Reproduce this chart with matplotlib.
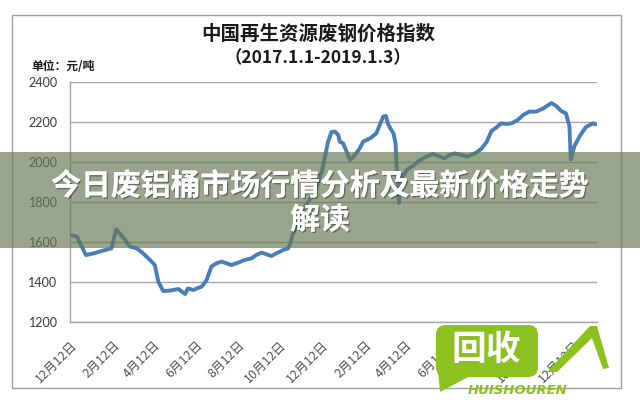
import matplotlib
matplotlib.use('Agg')
import matplotlib.pyplot as plt
from matplotlib.patches import Rectangle, FancyBboxPatch, Polygon
import matplotlib.patheffects as pe
import pandas as pd

plt.rcParams['font.family'] = ['Noto Sans CJK SC', 'DejaVu Sans']

# ---------------- data ----------------
dates = [
    '2016-12-06', '2016-12-15', '2016-12-28', '2017-01-08', '2017-01-22', '2017-02-03',
    '2017-02-10', '2017-02-15', '2017-02-23', '2017-03-02', '2017-03-12', '2017-03-21',
    '2017-03-31', '2017-04-07', '2017-04-12', '2017-04-19', '2017-04-29', '2017-05-11',
    '2017-05-21', '2017-05-25', '2017-06-02', '2017-06-07', '2017-06-14', '2017-06-21',
    '2017-06-28', '2017-07-05', '2017-07-13', '2017-07-20', '2017-07-27', '2017-08-06',
    '2017-08-15', '2017-08-25', '2017-09-01', '2017-09-09', '2017-09-16', '2017-09-23',
    '2017-09-30', '2017-10-10', '2017-10-17', '2017-10-20', '2017-10-25', '2017-11-03',
    '2017-11-13', '2017-11-25', '2017-12-05', '2017-12-14', '2017-12-19', '2017-12-24',
    '2017-12-29', '2017-12-31', '2018-01-05', '2018-01-10', '2018-01-15', '2018-01-22',
    '2018-01-29', '2018-02-03', '2018-02-13', '2018-02-22', '2018-02-27', '2018-03-04',
    '2018-03-08', '2018-03-11', '2018-03-15', '2018-03-19', '2018-03-22', '2018-03-24',
    '2018-03-27', '2018-03-30', '2018-04-07', '2018-04-16', '2018-04-26', '2018-05-06',
    '2018-05-15', '2018-05-25', '2018-06-01', '2018-06-08', '2018-06-16', '2018-06-25',
    '2018-07-03', '2018-07-15', '2018-07-24', '2018-08-01', '2018-08-08', '2018-08-15',
    '2018-08-22', '2018-08-30', '2018-09-06', '2018-09-15', '2018-09-23', '2018-10-02',
    '2018-10-12', '2018-10-22', '2018-11-03', '2018-11-10', '2018-11-17', '2018-11-24',
    '2018-11-29', '2018-12-01', '2018-12-06', '2018-12-14', '2018-12-23', '2019-01-02',
    '2019-01-06',
]
values = [
    1635, 1627, 1535, 1543, 1557, 1568,
    1663, 1643, 1610, 1577, 1568, 1543,
    1510, 1485, 1402, 1355, 1357, 1365,
    1340, 1368, 1360, 1368, 1377, 1410,
    1477, 1493, 1502, 1493, 1485, 1497,
    1510, 1518, 1535, 1547, 1538, 1530,
    1543, 1560, 1568, 1590, 1650, 1720,
    1790, 1850, 1950, 2100, 2150, 2152,
    2135, 2102, 2093, 2052, 2010, 2035,
    2068, 2102, 2118, 2143, 2185, 2227,
    2230, 2190, 2165, 2143, 2093, 1930,
    1795, 1910, 1960, 1980, 2010, 2027,
    2040, 2027, 2018, 2035, 2043, 2035,
    2027, 2043, 2065, 2100, 2155, 2172,
    2193, 2190, 2193, 2210, 2235, 2252,
    2252, 2268, 2295, 2280, 2255, 2243,
    2180, 2012, 2077, 2130, 2175, 2193,
    2188,
]
tick_dates = ['2016-12-12', '2017-02-12', '2017-04-12', '2017-06-12', '2017-08-12',
              '2017-10-12', '2017-12-12', '2018-02-12', '2018-04-12', '2018-06-12',
              '2018-08-12', '2018-10-12', '2018-12-12']
tick_labels = ['12月12日', '2月12日', '4月12日', '6月12日', '8月12日', '10月12日',
               '12月12日', '2月12日', '4月12日', '6月12日', '8月12日', '10月12日', '12月12日']
y_ticks = [1200, 1400, 1600, 1800, 2000, 2200, 2400]
title_text = '中国再生资源废钢价格指数'
subtitle_text = '（2017.1.1-2019.1.3）'
unit_text = '单位：元/吨'
banner_line1 = '今日废铝桶市场行情分析及最新价格走势'
banner_line2 = '解读'
logo_text = '回收'
logo_sub = 'HUISHOUREN'

# ---------------- figure ----------------
W, H = 640, 400
fig = plt.figure(figsize=(W / 100, H / 100), dpi=100, facecolor='white')

def fx(px):
    return px / W

def fy(py):
    return 1 - py / H

ax = fig.add_axes([fx(70), fy(322), (597 - 70) / W, (322 - 82) / H])
ax.plot(pd.to_datetime(dates), values, color='#4a7ebb', lw=2.8,
        solid_joinstyle='round', solid_capstyle='round', zorder=3)
ax.set_xlim(pd.Timestamp('2016-12-05'), pd.Timestamp('2019-01-08'))
ax.set_ylim(1200, 2400)
ax.set_yticks(y_ticks)
ax.yaxis.grid(True, color='#a6a6a6', lw=1)
ax.set_axisbelow(True)
for s in ['top', 'right']:
    ax.spines[s].set_visible(False)
for s in ['left', 'bottom']:
    ax.spines[s].set_color('#a6a6a6')
    ax.spines[s].set_linewidth(1)
ax.set_xticks(pd.to_datetime(tick_dates))
ax.set_xticklabels(tick_labels, rotation=45, ha='right', va='center',
                   rotation_mode='anchor', fontsize=9, color='#505050')
ax.tick_params(axis='x', length=0, pad=15)
ax.tick_params(axis='y', length=0, pad=9, labelsize=9, labelcolor='#3a3a3a')
for lbl in ax.get_yticklabels():
    lbl.set_family(['Lato', 'DejaVu Sans'])

# overlay in pixel coordinates
ov = fig.add_axes([0, 0, 1, 1])
ov.set_xlim(0, W)
ov.set_ylim(H, 0)
ov.axis('off')
ov.set_facecolor('none')
ov.patch.set_alpha(0)
ov.set_zorder(10)

# outer frame
ov.add_patch(Rectangle((12, 15), 609, 373, fill=False, ec='#a0a0a0', lw=1))

# titles
ov.text(318, 34, title_text, ha='center', va='center', fontsize=14,
        fontweight='bold', color='#1a1a1a')
ov.text(318, 58, subtitle_text, ha='center', va='center', fontsize=12.5,
        fontweight='bold', color='#1a1a1a')
ov.text(31, 67, unit_text, ha='left', va='center', fontsize=8.5,
        fontweight='bold', color='#1a1a1a')

# banner overlay
ov.add_patch(Rectangle((0, 152), W, 96, fc=(103 / 255, 123 / 255, 86 / 255),
                       alpha=0.68, ec='none', zorder=5))
shadow = [pe.withSimplePatchShadow(offset=(1, -1), shadow_rgbFace='black', alpha=0.35), pe.Normal()]
ov.text(320, 186, banner_line1, ha='center', va='center', fontsize=21.5,
        fontweight='bold', color='white', zorder=6, path_effects=shadow)
ov.text(320, 220, banner_line2, ha='center', va='center', fontsize=21.5,
        fontweight='bold', color='white', zorder=6, path_effects=shadow)

# logo watermark
green = '#8cc21f'
ov.add_patch(FancyBboxPatch((436, 325), 102, 52, boxstyle='round,pad=0,rounding_size=10',
                            fc=green, ec='none', zorder=7))
ov.add_patch(Polygon([(437, 360), (440, 392), (470, 376)], closed=True,
                     fc=green, ec='none', zorder=7))
ov.text(486, 349, logo_text, ha='center', va='center', fontsize=25,
        fontweight='bold', color='white', zorder=8)
ov.add_patch(Polygon([(547, 372), (590, 326), (597, 326), (609, 368), (603, 369),
                      (592, 338), (557, 372)], closed=True, fc=green, ec='none', zorder=7))
ov.text(518, 390, logo_sub, ha='center', va='center', fontsize=9.5,
        fontweight='bold', fontstyle='italic', color=green, zorder=8,
        family=['DejaVu Sans'])

fig.savefig('out.png', dpi=100, facecolor='white')
